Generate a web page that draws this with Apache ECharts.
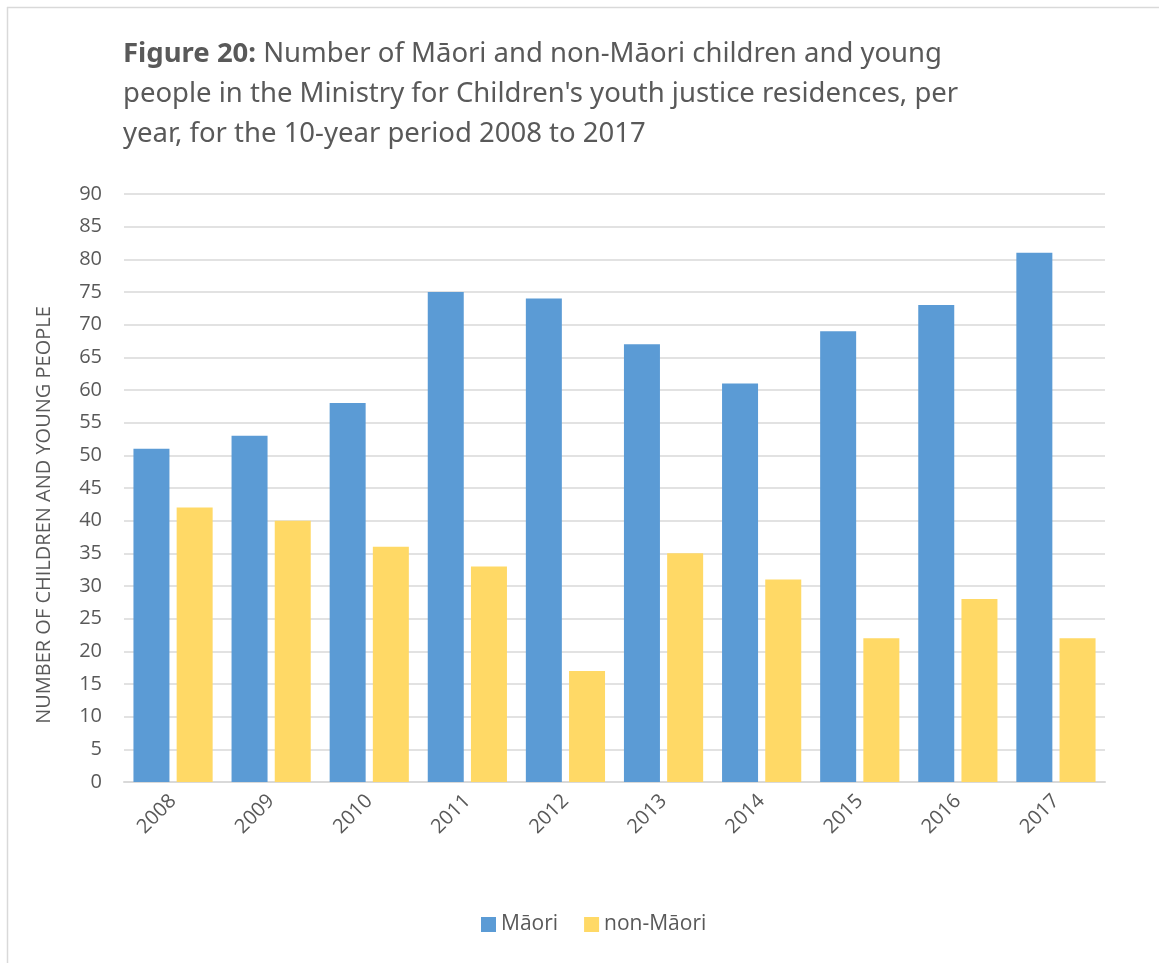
<!DOCTYPE html>
<html>
<head>
<meta charset="utf-8">
<script src="https://cdn.jsdelivr.net/npm/echarts@6/dist/echarts.min.js"></script>
<style>
html,body{margin:0;padding:0;background:#fff;}
#chart{width:1159px;height:963px;}
</style>
</head>
<body>
<div id="chart"></div>
<script>
const years = ['2008','2009','2010','2011','2012','2013','2014','2015','2016','2017'];
const maori = [51,53,58,75,74,67,61,69,73,81];
const nonMaori = [42,40,36,33,17,35,31,22,28,22];
const seriesNames = ['Māori','non-Māori'];
const yAxisTitle = 'NUMBER OF CHILDREN AND YOUNG PEOPLE';
const titleBold = 'Figure 20:';
const titleRest = ' Number of Māori and non-Māori children and young\npeople in the Ministry for Children\'s youth justice residences, per\nyear, for the 10-year period 2008 to 2017';

const chart = echarts.init(document.getElementById('chart'));
const textColor = '#595959';
const titleFont = '"Noto Sans", sans-serif';
const bodyFont = '"Open Sans", "Noto Sans", sans-serif';
chart.setOption({
  animation: false,
  backgroundColor: '#ffffff',
  graphic: [
    {type:'line', shape:{x1:7,y1:7.5,x2:1159,y2:7.5}, style:{stroke:'#d9d9d9', lineWidth:1.5}},
    {type:'line', shape:{x1:7.5,y1:7,x2:7.5,y2:963}, style:{stroke:'#d9d9d9', lineWidth:1.5}}
  ],
  title: {
    text: '{b|' + titleBold + '}' + titleRest.split('\n').map(l => '{r|' + l + '}').join('\n'),
    left: 118,
    top: 29,
    textStyle: {
      color: textColor,
      fontFamily: titleFont,
      fontSize: 27.5,
      lineHeight: 40,
      rich: {
        b: {fontWeight: 'bold', fontFamily: titleFont, fontSize: 27.5, color: textColor, lineHeight: 40},
        r: {fontWeight: 'normal', fontFamily: titleFont, fontSize: 27.5, color: textColor, lineHeight: 40}
      }
    }
  },
  legend: {
    bottom: 23,
    left: 476,
    itemWidth: 15,
    itemHeight: 15,
    itemGap: 26,
    icon: 'rect',
    textStyle: {color: textColor, fontSize: 21, fontFamily: bodyFont},
    data: seriesNames
  },
  grid: {left: 124, right: 54, top: 194, bottom: 181},
  xAxis: {
    type: 'category',
    data: years,
    axisLine: {lineStyle: {color: '#d9d9d9', width: 2}},
    axisTick: {show: false},
    axisLabel: {rotate: 45, color: textColor, fontSize: 20, fontFamily: bodyFont, margin: 16}
  },
  yAxis: {
    type: 'value',
    min: 0, max: 90, interval: 5,
    name: yAxisTitle,
    nameLocation: 'middle',
    nameGap: 70,
    nameTextStyle: {color: textColor, fontSize: 20, fontFamily: bodyFont, padding: [0, 54, 0, 0]},
    axisLine: {show: false},
    axisTick: {show: false},
    axisLabel: {color: textColor, fontSize: 20, fontFamily: bodyFont, margin: 22},
    splitLine: {lineStyle: {color: '#d9d9d9', width: 1.5}}
  },
  series: [
    {name: seriesNames[0], type: 'bar', data: maori, barWidth: 36, barGap: '20%',
     itemStyle: {color: '#5B9BD5'}},
    {name: seriesNames[1], type: 'bar', data: nonMaori, barWidth: 36, barGap: '20%',
     itemStyle: {color: '#FFD966'}}
  ]
});
</script>
</body>
</html>
